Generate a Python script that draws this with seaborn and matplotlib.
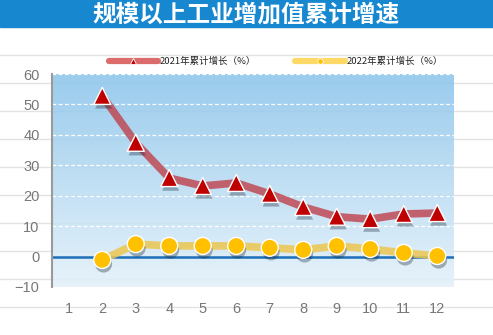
import numpy as np
import pandas as pd
import matplotlib
matplotlib.use("Agg")
import matplotlib.pyplot as plt
import seaborn as sns
from matplotlib.lines import Line2D
import matplotlib.patheffects as pe

months = [2, 3, 4, 5, 6, 7, 8, 9, 10, 11, 12]
growth_2021 = [52.8, 37.4, 25.8, 23.2, 24.2, 20.6, 16.3, 13.1, 12.3, 14.0, 14.3]
growth_2022 = [-1.1, 4.1, 3.5, 3.5, 3.5, 2.9, 2.2, 3.5, 2.5, 1.2, 0.2]
x_ticks = list(range(1, 13))
y_ticks = [-10, 0, 10, 20, 30, 40, 50, 60]
title = "规模以上工业增加值累计增速"
label_2021 = "2021年累计增长（%）"
label_2022 = "2022年累计增长（%）"

sns.set_style("white")
plt.rcParams['font.family'] = ['Liberation Sans', 'Noto Sans CJK SC', 'DejaVu Sans']

W, H = 493, 335
fig = plt.figure(figsize=(W / 100, H / 100), dpi=100)

def fx(px):
    return px / W

def fy(py):
    return 1 - py / H

# Title bar
fig.patches.append(plt.Rectangle((0, fy(27)), 1, 27 / H, transform=fig.transFigure,
                                 color="#1787cf", zorder=-3))
fig.text(fx(246), fy(14), title, color="white", fontsize=17, fontweight="bold",
         family=['Noto Sans CJK SC'], ha="center", va="center")

# Background grey lines
for py in [55, 83, 111, 139, 167, 195, 223, 251, 279, 307]:
    fig.lines.append(Line2D([0, 1], [fy(py), fy(py)], transform=fig.transFigure,
                            color="#e3e3e3", lw=1.0, zorder=-2))

# Axes
left, right, top, bottom = 52, 454, 74, 287
ax = fig.add_axes([fx(left), fy(bottom), fx(right - left), (bottom - top) / H])
ax.set_facecolor("none")
ax.set_xlim(0.5, 12.5)
ax.set_ylim(-10, 60)

grad = np.linspace(0, 1, 256).reshape(-1, 1)
cmap = matplotlib.colors.LinearSegmentedColormap.from_list("bg", ["#8cc5eb", "#e4f1fa"])
ax.imshow(grad, extent=[0.5, 12.5, -10, 60], aspect="auto", cmap=cmap, alpha=0.88,
          zorder=0, origin="upper")
ax.set_ylim(-10, 60)

ax.set_yticks(y_ticks)
ax.set_xticks(x_ticks)
for y in y_ticks:
    if y != 0:
        ax.axhline(y, color="white", lw=0.9, ls=(0, (3, 2)), zorder=1)
ax.axhline(0, color="#1c6fb8", lw=1.8, zorder=2)

df = pd.DataFrame({"month": months, "y2021": growth_2021, "y2022": growth_2022})

sns.lineplot(data=df, x="month", y="y2021", ax=ax, color="#bf4a55", lw=5.5, alpha=0.85,
             zorder=3, solid_capstyle="butt")
sns.lineplot(data=df, x="month", y="y2022", ax=ax, color="#ecc650", lw=5.5, alpha=0.85,
             zorder=3, solid_capstyle="butt")

shadow = [pe.SimplePatchShadow(offset=(1, -3), shadow_rgbFace="#1a2a3a", alpha=0.35), pe.Normal()]
sns.scatterplot(data=df, x="month", y="y2021", ax=ax, marker="^", s=150,
                color="#c00000", edgecolor="white", linewidth=1.0, zorder=5)
ax.collections[-1].set_path_effects(shadow)
sns.scatterplot(data=df, x="month", y="y2022", ax=ax, marker="o", s=150,
                color="#ffc000", edgecolor="white", linewidth=1.0, zorder=5)
ax.collections[-1].set_path_effects(shadow)

ax.set_xlabel("")
ax.set_ylabel("")
for s in ["top", "right", "bottom"]:
    ax.spines[s].set_visible(False)
ax.spines["left"].set_color("#9a9a9a")
ax.spines["left"].set_linewidth(1.5)
ax.tick_params(axis="y", length=0, pad=9, labelsize=10.5, labelcolor="#777777")
ax.tick_params(axis="x", length=0, pad=11, labelsize=10.5, labelcolor="#777777")
ax.set_yticklabels(["−10" if v < 0 else str(v) for v in y_ticks])

# Legend (manual)
ly = fy(61)
fig.lines.append(Line2D([fx(109), fx(158)], [ly, ly], transform=fig.transFigure,
                        color="#dc6b6b", lw=4.5, solid_capstyle="round", zorder=5))
fig.lines.append(Line2D([fx(133)], [ly], transform=fig.transFigure, marker="^", linestyle="none",
                        markersize=5, color="#c00000", markeredgecolor="white",
                        markeredgewidth=0.6, zorder=6))
fig.text(fx(160), ly, label_2021, fontsize=6.8, family=['Noto Sans CJK SC'],
         color="#222222", va="center", ha="left")
fig.lines.append(Line2D([fx(295), fx(345)], [ly, ly], transform=fig.transFigure,
                        color="#ffd966", lw=4.5, solid_capstyle="round", zorder=5))
fig.lines.append(Line2D([fx(320)], [ly], transform=fig.transFigure, marker="o", linestyle="none",
                        markersize=4, color="#ffc000", markeredgecolor="white",
                        markeredgewidth=0.6, zorder=6))
fig.text(fx(347), ly, label_2022, fontsize=6.8, family=['Noto Sans CJK SC'],
         color="#222222", va="center", ha="left")

fig.savefig("out.png", dpi=100)
